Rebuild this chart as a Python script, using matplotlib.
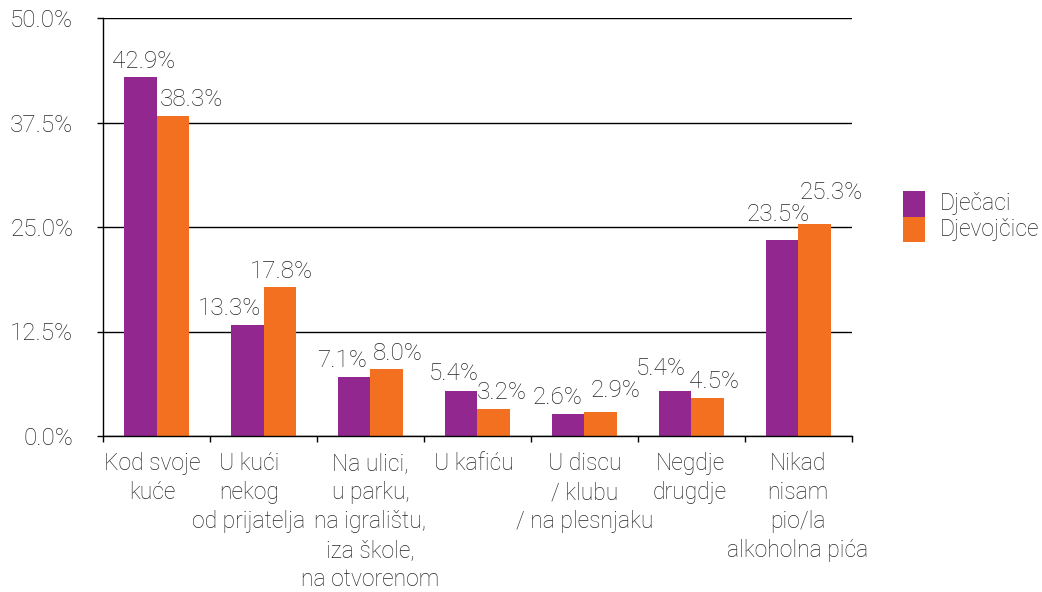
import matplotlib
matplotlib.use("Agg")
import matplotlib.pyplot as plt
import numpy as np
from matplotlib.ticker import FixedLocator, FuncFormatter
from matplotlib.patches import Rectangle
from matplotlib.transforms import ScaledTranslation

categories = ["Kod svoje\nkuće", "U kući\nnekog\nod prijatelja",
              "Na ulici,\nu parku,\nna igralištu,\niza škole,\nna otvorenom",
              "U kafiću", "U discu\n/ klubu\n/ na plesnjaku", "Negdje\ndrugdje",
              "Nikad\nnisam\npio/la\nalkoholna pića"]
series_names = ["Dječaci", "Djevojčice"]
djecaci = [42.9, 13.3, 7.1, 5.4, 2.6, 5.4, 23.5]
djevojcice = [38.3, 17.8, 8.0, 3.2, 2.9, 4.5, 25.3]
yticks = [0.0, 12.5, 25.0, 37.5, 50.0]

# label nudges (points) to mimic the reference label layout
dx_d = [13.3, -1.8, -2.5, 1.1, -1.1, -4.0, 8.3]
dy_d = [6.5, 7.2, 7.2, 7.9, 7.2, 11.5, 13.0]
dx_g = [2.5, -9.7, 1.8, -0.4, 4.7, -1.8, 1.1]
dy_g = [7.2, 6.7, 6.5, 7.7, 10.8, 7.2, 18.0]
dx_cat = [-3.0, -10.5, 0.0, -2.5, 0.0, -1.0, -0.5]

FONT = "Roboto"
TXT = "#262626"
PURPLE = "#92278F"
ORANGE = "#F37021"
FS_NUM = 17.5
FS_TXT = 16.5

plt.rcParams["font.family"] = [FONT, "DejaVu Sans"]
plt.rcParams["font.weight"] = "light"

fig = plt.figure(figsize=(10.42, 5.92), dpi=100)
ax = fig.add_axes([103/1042, 156/592, 749/1042, 418/592])

x = np.arange(len(categories))
w = 0.3
ax.bar(x - w/2, djecaci, w, color=PURPLE, label=series_names[0])
ax.bar(x + w/2, djevojcice, w, color=ORANGE, label=series_names[1])

for i in range(len(categories)):
    ax.annotate(f"{djecaci[i]:.1f}%", (x[i], djecaci[i]), xytext=(dx_d[i], dy_d[i]),
                textcoords="offset points", ha="right", va="baseline",
                fontsize=FS_NUM, color=TXT, fontweight="light")
    ax.annotate(f"{djevojcice[i]:.1f}%", (x[i], djevojcice[i]), xytext=(dx_g[i], dy_g[i]),
                textcoords="offset points", ha="left", va="baseline",
                fontsize=FS_NUM, color=TXT, fontweight="light")

ax.set_xlim(-0.5, len(categories) - 0.5)
ax.set_ylim(0, 50)
ax.yaxis.set_major_locator(FixedLocator(yticks))
ax.yaxis.set_major_formatter(FuncFormatter(lambda v, p: f"{v:.1f}%"))
ax.grid(axis="y", color="black", linewidth=1)
ax.set_axisbelow(True)

ax.set_xticks(x)
ax.set_xticklabels(categories, fontsize=FS_TXT, color=TXT, linespacing=1.34)
ax.set_xticks(np.arange(len(categories) + 1) - 0.5, minor=True)
ax.tick_params(axis="x", which="major", length=0, pad=11.5)
ax.tick_params(axis="x", which="minor", length=4.3, width=1, color="black", direction="out")
ax.tick_params(axis="y", length=4.3, width=1, color="black", pad=17, labelsize=FS_NUM, labelcolor=TXT)

for s in ["top", "right"]:
    ax.spines[s].set_visible(False)
for s in ["left", "bottom"]:
    ax.spines[s].set_color("black")
    ax.spines[s].set_linewidth(1)

# legend drawn manually in figure pixel coordinates
W, H = 1042, 592
colors = [PURPLE, ORANGE]
for k, (name, c) in enumerate(zip(series_names, colors)):
    top = 191 + k * 25.5
    fig.add_artist(Rectangle((903 / W, 1 - (top + 25.5) / H), 22 / W, 25.5 / H,
                             transform=fig.transFigure, color=c, linewidth=0))
    fig.text(940 / W, 1 - (top + 12.75) / H, name, fontsize=FS_TXT, color=TXT,
             ha="left", va="center", fontweight="light")

# shift category labels slightly, as in the reference
for lbl, d in zip(ax.get_xticklabels(), dx_cat):
    lbl.set_transform(lbl.get_transform() + ScaledTranslation(d / 72, 0, fig.dpi_scale_trans))

fig.savefig("out.png", dpi=100)
